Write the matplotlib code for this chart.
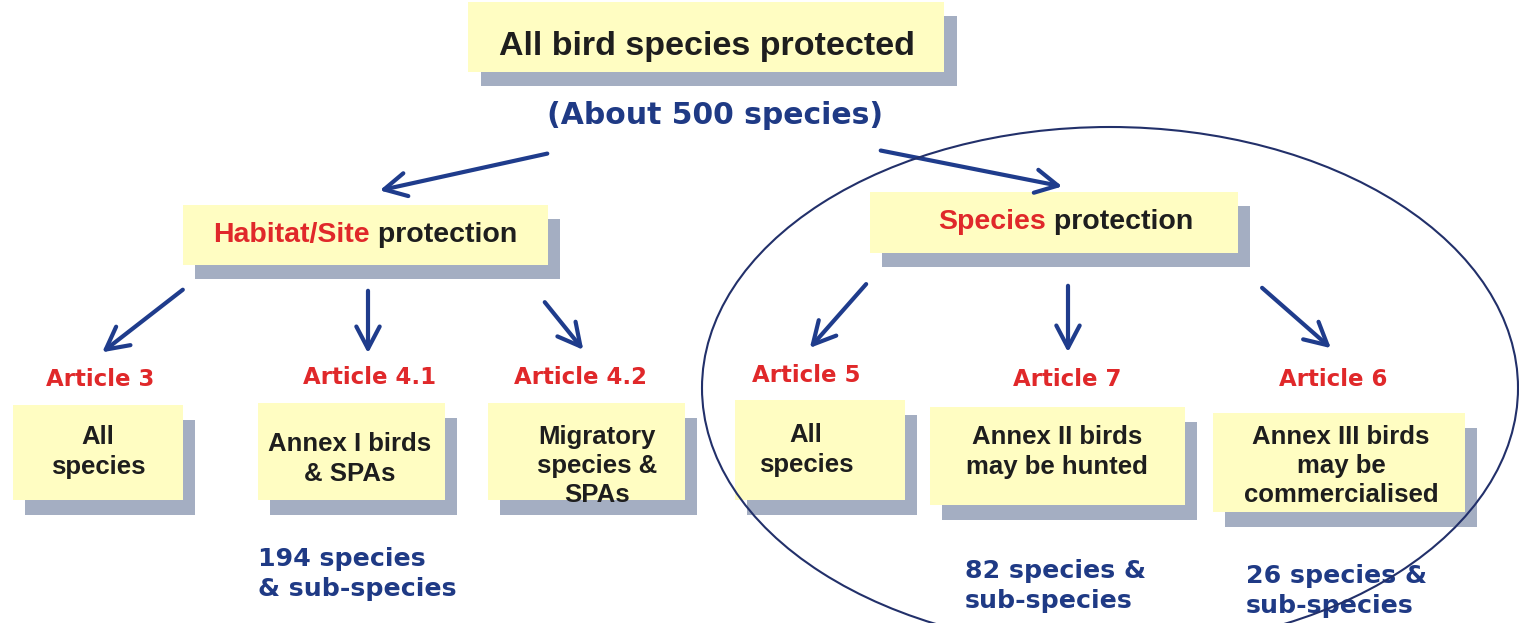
import matplotlib
matplotlib.use("Agg")
import matplotlib.pyplot as plt
from matplotlib.patches import Rectangle, Ellipse, FancyArrowPatch

# texts of the diagram
top_title = "All bird species protected"
top_sub = "(About 500 species)"
branch_red = ["Habitat/Site", "Species"]
branch_dark = [" protection", " protection"]
articles = ["Article 3", "Article 4.1", "Article 4.2", "Article 5", "Article 7", "Article 6"]
box_texts = ["All\nspecies", "Annex I birds\n& SPAs", "Migratory\nspecies &\nSPAs",
             "All\nspecies", "Annex II birds\nmay be hunted", "Annex III birds\nmay be\ncommercialised"]
counts = ["194 species\n& sub-species", "82 species &\nsub-species", "26 species &\nsub-species"]

# layout in pixels (x0, y0, x1, y1)
top_box = (468, 2, 944, 72)
branch_boxes = [(183, 205, 548, 265), (870, 192, 1238, 253)]
branch_text_x = [213, 938]
branch_text_y = [235, 222]
small_boxes = [(13, 405, 183, 500), (258, 403, 445, 500), (488, 403, 685, 500),
               (735, 400, 905, 500), (930, 407, 1185, 505), (1213, 413, 1465, 512)]
article_xy = [(100, 380), (370, 378), (580, 378), (806, 376), (1067, 380), (1333, 380)]
box_text_xy = [(98, 452), (350, 459), (597, 466), (806, 450), (1057, 452), (1341, 466)]
count_xy = [(258, 574), (965, 586), (1246, 591)]
arrows = [((550, 153), (377, 191)), ((878, 150), (1065, 187)),
          ((185, 288), (100, 354)), ((368, 288), (368, 356)), ((543, 300), (585, 352)),
          ((868, 282), (808, 350)), ((1068, 283), (1068, 355)), ((1260, 286), (1333, 350))]

YELLOW = "#FFFDC2"
SHADOW = "#A4AEC2"
RED = "#E0282A"
DARK = "#1E1E1E"
BLUE = "#1F3A85"
NAVY = "#1F3C8C"

arial = "Liberation Sans"
verdana = "DejaVu Sans"

fig = plt.figure(figsize=(15.19, 6.23), dpi=100)
ax = fig.add_axes([0, 0, 1, 1])
ax.set_xlim(0, 1519)
ax.set_ylim(623, 0)
ax.axis("off")


def box(b, dx=13, dy=14):
    x0, y0, x1, y1 = b
    ax.add_patch(Rectangle((x0 + dx, y0 + dy), x1 - x0, y1 - y0, fc=SHADOW, ec="none", zorder=1))
    ax.add_patch(Rectangle((x0, y0), x1 - x0, y1 - y0, fc=YELLOW, ec="none", zorder=2))


box(top_box)
ax.text(707, 47, top_title, ha="center", va="center", fontsize=24.5, fontweight="bold",
        color=DARK, family=arial, zorder=3)
ax.text(715, 116, top_sub, ha="center", va="center", fontsize=21.5, fontweight="bold",
        color=BLUE, family=verdana, zorder=3)

for b, red, dark, tx, ty in zip(branch_boxes, branch_red, branch_dark, branch_text_x, branch_text_y):
    box(b, 12, 14)
    t1 = ax.text(tx, ty, red, ha="left", va="center", fontsize=20.5, fontweight="bold",
                 color=RED, family=arial, zorder=3)
    ax.annotate(dark, xy=(1, 0.5), xycoords=t1, ha="left", va="center", fontsize=20.5,
                fontweight="bold", color=DARK, family=arial, zorder=3)

for b, t, (x, y) in zip(small_boxes, box_texts, box_text_xy):
    box(b, 12, 15)
    ax.text(x, y, t, ha="center", va="center", fontsize=18.5, fontweight="bold", color=DARK,
            family=arial, linespacing=1.28, zorder=3)

for t, (x, y) in zip(articles, article_xy):
    ax.text(x, y, t, ha="center", va="center", fontsize=16.5, fontweight="bold", color=RED,
            family=verdana, zorder=3)

for t, (x, y) in zip(counts, count_xy):
    ax.text(x, y, t, ha="left", va="center", fontsize=18.2, fontweight="bold", color=BLUE,
            family=verdana, linespacing=1.28, zorder=3)

for p0, p1 in arrows:
    ax.add_patch(FancyArrowPatch(p0, p1, arrowstyle="->,head_length=0.8,head_width=0.42",
                                 color=NAVY, lw=3, mutation_scale=20, zorder=4))

ax.add_patch(Ellipse((1110, 388), 816, 522, fc="none", ec="#22306A", lw=1.5, zorder=5))

fig.savefig("out.png", dpi=100)
